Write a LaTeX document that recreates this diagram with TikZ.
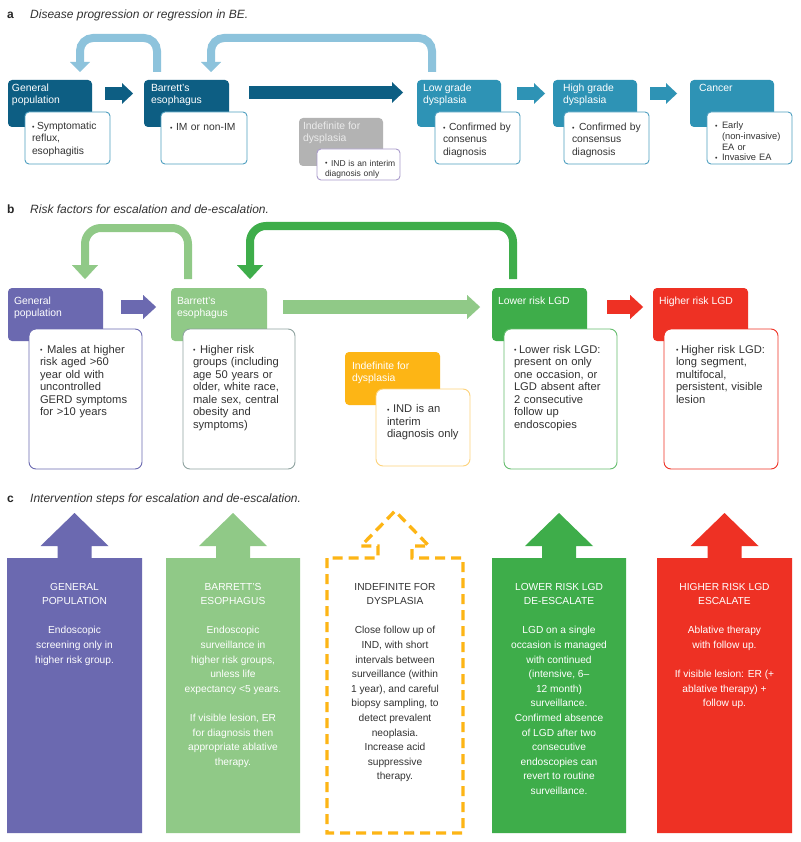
\documentclass[tikz,border=0pt]{standalone}
\usepackage{fontspec}
\setmainfont{Liberation Sans}
\usetikzlibrary{arrows.meta,calc}
\definecolor{adark}{HTML}{0D5E83}
\definecolor{alight}{HTML}{2E93B5}
\definecolor{aloop}{HTML}{8DC3DC}
\definecolor{agray}{HTML}{B3B3B3}
\definecolor{aborder}{HTML}{4F9FC0}
\definecolor{indborder}{HTML}{A99BCB}
\definecolor{bpurple}{HTML}{6B69B0}
\definecolor{blgreen}{HTML}{90C987}
\definecolor{bgreen}{HTML}{3EAD4A}
\definecolor{borange}{HTML}{FDB515}
\definecolor{borangeb}{HTML}{FDD27A}
\definecolor{bred}{HTML}{EE3124}
\definecolor{bbeborder}{HTML}{8FA3A0}
\definecolor{tgray}{HTML}{333333}
\newcommand{\bsym}{\raisebox{0.3pt}{\fontsize{7}{7}\selectfont •}}
\newcommand{\bl}[1]{\par\noindent\hangindent=#1\hangafter=1\makebox[#1][l]{\bsym}}
\begin{document}
\begin{tikzpicture}[x=1pt,y=-1pt,
  box/.style={anchor=north west, inner sep=0pt, outer sep=0pt, rounded corners=4pt},
  wboxa/.style={box, draw=#1, fill=white, line width=0.9pt},
  wboxb/.style={box, draw=#1, fill=white, line width=0.9pt, rounded corners=7pt},
  hdr/.style={anchor=north west, inner sep=0pt, outer sep=0pt, text=white, align=left, font=\fontsize{10.4}{12.3}\selectfont},
  btx/.style={anchor=north west, inner sep=0pt, outer sep=0pt, text=tgray, align=left, text width=#1, font=\fontsize{10.3}{12.4}\selectfont},
  btxb/.style={btx=#1, font=\fontsize{11.2}{12.5}\selectfont},
  ttl/.style={anchor=base west, inner sep=0pt, text=tgray, font=\fontsize{12}{14}\selectfont\itshape},
  lab/.style={anchor=base west, inner sep=0pt, text=black!85, font=\fontsize{12}{14}\selectfont\bfseries},
  barrowa/.style={line width=12.5pt, -{Triangle[width=20.5pt,length=11pt,line width=0.01pt]}},
  barrowb/.style={line width=14pt, -{Triangle[width=24pt,length=13pt,line width=0.01pt]}},
  loopa/.style={aloop, line width=8pt, rounded corners=13pt, -{Triangle[width=20pt,length=10pt,line width=0.01pt]}},
  loopb/.style={line width=8pt, rounded corners=16pt, -{Triangle[width=26pt,length=14pt,line width=0.01pt]}},
  ctx/.style={anchor=north, inner sep=0pt, outer sep=0pt, align=center, font=\fontsize{10.2}{14.6}\selectfont}
]
\useasboundingbox[fill=white] (0,0) rectangle (800,842);

% ---------------- panel a ----------------
\node[lab] (aLab) at (7,18.5) {a};
\node[ttl] (aTtl) at (30,18.5) {Disease progression or regression in BE.};

\node[box, fill=adark, minimum width=84pt, minimum height=47pt] (aGP) at (8,80) {};
\node[box, fill=adark, minimum width=85pt, minimum height=47pt] (aBE) at (144,80) {};
\node[box, fill=alight, minimum width=84pt, minimum height=47pt] (aLG) at (417,80) {};
\node[box, fill=alight, minimum width=84pt, minimum height=47pt] (aHG) at (553,80) {};
\node[box, fill=alight, minimum width=84pt, minimum height=47pt] (aCA) at (690,80) {};
\node[box, fill=agray, minimum width=84pt, minimum height=48pt] (aIND) at (299,118) {};

\node[hdr] (aGPt) at ($(aGP.north west)+(4,4)$) {General\\population};
\node[hdr] (aBEt) at ($(aBE.north west)+(7,4)$) {Barrett’s\\esophagus};
\node[hdr] (aLGt) at ($(aLG.north west)+(6,4)$) {Low grade\\dysplasia};
\node[hdr] (aHGt) at ($(aHG.north west)+(10,4)$) {High grade\\dysplasia};
\node[hdr] (aCAt) at ($(aCA.north west)+(9,4)$) {Cancer};
\node[hdr, text=white!92!black] (aINDt) at ($(aIND.north west)+(4,4)$) {Indefinite for\\dysplasia};

\node[wboxa=aborder, minimum width=85pt, minimum height=52pt] (aGPw) at (25,112) {};
\node[wboxa=aborder, minimum width=86pt, minimum height=52pt] (aBEw) at (161,112) {};
\node[wboxa=aborder, minimum width=85pt, minimum height=52pt] (aLGw) at (435,112) {};
\node[wboxa=aborder, minimum width=85pt, minimum height=52pt] (aHGw) at (564,112) {};
\node[wboxa=aborder, minimum width=85pt, minimum height=52pt] (aCAw) at (707,112) {};
\node[wboxa=indborder, minimum width=83pt, minimum height=31pt] (aINDw) at (317,149) {};

\node[btx=78pt] (aGPb) at ($(aGPw.north west)+(7,5)$) {\bl{5pt}Symptomatic\newline reflux,\newline esophagitis};
\node[btx=78pt] (aBEb) at ($(aBEw.north west)+(9,6)$) {\bl{6pt}IM or non-IM};
\node[btx=78pt] (aLGb) at ($(aLGw.north west)+(8,6)$) {\bl{6pt}Confirmed by\newline consenus\newline diagnosis};
\node[btx=78pt] (aHGb) at ($(aHGw.north west)+(8,6)$) {\bl{7pt}Confirmed by\newline consensus\newline diagnosis};
\node[btx=78pt, font=\fontsize{9.3}{10.7}\selectfont] (aCAb) at ($(aCAw.north west)+(8,6)$) {\bl{7pt}Early\newline (non-invasive)\newline EA or\bl{7pt}Invasive EA};
\node[btx=78pt, font=\fontsize{8.5}{10.3}\selectfont] (aINDb) at ($(aINDw.north west)+(8,7)$) {\bl{6pt}IND is an interim\newline diagnosis only};

\draw[barrowa, adark] ([xshift=13pt,yshift=10pt]aGP.east) -- ([xshift=-11pt,yshift=10pt]aBE.west);
\draw[barrowa, adark, line width=13pt] ([xshift=20pt,yshift=11pt]aBE.east) -- ([xshift=-14pt,yshift=11pt]aLG.west);
\draw[barrowa, alight] ([xshift=16pt,yshift=10pt]aLG.east) -- ([xshift=-8pt,yshift=10pt]aHG.west);
\draw[barrowa, alight] ([xshift=13pt,yshift=10pt]aHG.east) -- ([xshift=-13pt,yshift=10pt]aCA.west);

\draw[loopa] ([xshift=13pt,yshift=8pt]aBE.north west) -- ++(0,-34) -| ([xshift=72pt,yshift=8pt]aGP.north west);
\draw[loopa] ([xshift=15pt,yshift=8pt]aLG.north west) -- ++(0,-34) -| ([xshift=67pt,yshift=8pt]aBE.north west);

% ---------------- panel b ----------------
\node[lab] (bLab) at (7,213.6) {b};
\node[ttl] (bTtl) at (30,213.6) {Risk factors for escalation and de-escalation.};

\node[box, fill=bpurple, minimum width=95pt, minimum height=53pt] (bGP) at (8,288) {};
\node[box, fill=blgreen, minimum width=96pt, minimum height=53pt] (bBE) at (171,288) {};
\node[box, fill=borange, minimum width=95pt, minimum height=53pt] (bIND) at (345,352) {};
\node[box, fill=bgreen, minimum width=95pt, minimum height=53pt] (bLR) at (492,288) {};
\node[box, fill=bred, minimum width=95pt, minimum height=53pt] (bHR) at (653,288) {};

\node[hdr] (bGPt) at ($(bGP.north west)+(6,9)$) {General\\population};
\node[hdr] (bBEt) at ($(bBE.north west)+(6,9)$) {Barrett’s\\esophagus};
\node[hdr] (bINDt) at ($(bIND.north west)+(7,10)$) {Indefinite for\\dysplasia};
\node[hdr] (bLRt) at ($(bLR.north west)+(6,9)$) {Lower risk LGD};
\node[hdr] (bHRt) at ($(bHR.north west)+(6,9)$) {Higher risk LGD};

\node[wboxb=bpurple, minimum width=113pt, minimum height=140pt] (bGPw) at (29,329) {};
\node[wboxb=bbeborder, minimum width=112pt, minimum height=140pt] (bBEw) at (183,329) {};
\node[wboxb=borangeb, minimum width=94pt, minimum height=77pt] (bINDw) at (376,389) {};
\node[wboxb=bgreen!80, minimum width=113pt, minimum height=140pt] (bLRw) at (504,329) {};
\node[wboxb=bred, minimum width=114pt, minimum height=140pt] (bHRw) at (664,329) {};

\node[btxb=104pt] (bGPb) at ($(bGPw.north west)+(11,11.5)$) {\bl{7pt}Males at higher\newline risk aged >60\newline year old with\newline uncontrolled\newline GERD symptoms\newline for >10 years};
\node[btxb=104pt] (bBEb) at ($(bBEw.north west)+(10,11.5)$) {\bl{7pt}Higher risk\newline groups (including\newline age 50 years or\newline older, white race,\newline male sex, central\newline obesity and\newline symptoms)};
\node[btxb=92pt] (bINDb) at ($(bINDw.north west)+(11,11)$) {\bl{6pt}IND is an\newline interim\newline diagnosis only};
\node[btxb=104pt] (bLRb) at ($(bLRw.north west)+(10,11.5)$) {\bl{5pt}Lower risk LGD:\newline present on only\newline one occasion, or\newline LGD absent after\newline 2 consecutive\newline follow up\newline endoscopies};
\node[btxb=104pt] (bHRb) at ($(bHRw.north west)+(12,11.5)$) {\bl{5pt}Higher risk LGD:\newline long segment,\newline multifocal,\newline persistent, visible\newline lesion};

\draw[barrowb, bpurple] ([xshift=18pt,yshift=7.5pt]bGP.east) -- ([xshift=-15pt,yshift=7.5pt]bBE.west);
\draw[barrowb, blgreen] ([xshift=16pt,yshift=7.5pt]bBE.east) -- ([xshift=-12pt,yshift=7.5pt]bLR.west);
\draw[barrowb, bred] ([xshift=20pt,yshift=7.5pt]bLR.east) -- ([xshift=-10pt,yshift=7.5pt]bHR.west);

\draw[loopb, blgreen] ([xshift=17pt,yshift=9pt]bBE.north west) -- ++(0,-51) -| ([xshift=77pt,yshift=9pt]bGP.north west);
\draw[loopb, bgreen] ([xshift=21pt,yshift=9pt]bLR.north west) -- ++(0,-53) -| ([xshift=79pt,yshift=9pt]bBE.north west);

% ---------------- panel c ----------------
\node[lab] (cLab) at (7,502.6) {c};
\node[ttl] (cTtl) at (30,502.6) {Intervention steps for escalation and de-escalation.};

\fill[bpurple] (7,558) -- (7,833) -- (142,833) -- (142,558) -- (91.5,558) -- (91.5,546) -- (108.5,546) -- (74.5,513) -- (40.5,546) -- (57.5,546) -- (57.5,558) -- cycle;
\fill[blgreen] (166,558) -- (166,833) -- (300,833) -- (300,558) -- (250,558) -- (250,546) -- (267,546) -- (233,513) -- (199,546) -- (216,546) -- (216,558) -- cycle;
\draw[borange, line width=3.3pt, dash pattern=on 10pt off 6pt] (327,558) -- (327,833) -- (463,833) -- (463,558) -- (412,558) -- (412,546) -- (429,546) -- (395,511) -- (361,546) -- (378,546) -- (378,558) -- cycle;
\fill[bgreen] (492,558) -- (492,833) -- (626,833) -- (626,558) -- (576,558) -- (576,546) -- (593,546) -- (559,513) -- (525,546) -- (542,546) -- (542,558) -- cycle;
\fill[bred] (657,558) -- (657,833) -- (792,833) -- (792,558) -- (741.5,558) -- (741.5,546) -- (758.5,546) -- (724.5,513) -- (690.5,546) -- (707.5,546) -- (707.5,558) -- cycle;

\node[ctx, text=white] (cGPt) at (74.5,583) {GENERAL\\POPULATION\\[14.6pt]Endoscopic\\screening only in\\higher risk group.};
\node[ctx, text=white] (cBEt) at (233,583) {BARRETT’S\\ESOPHAGUS\\[14.6pt]Endoscopic\\surveillance in\\higher risk groups,\\unless life\\expectancy <5 years.\\[14.6pt]If visible lesion, ER\\for diagnosis then\\appropriate ablative\\therapy.};
\node[ctx, text=tgray] (cINDt) at (395,583) {INDEFINITE FOR\\DYSPLASIA\\[14.6pt]Close follow up of\\IND, with short\\intervals between\\surveillance (within\\1 year), and careful\\biopsy sampling, to\\detect prevalent\\neoplasia.\\Increase acid\\suppressive\\therapy.};
\node[ctx, text=white] (cLRt) at (559,583) {LOWER RISK LGD\\DE-ESCALATE\\[14.6pt]LGD on a single\\occasion is managed\\with continued\\(intensive, 6–\\12 month)\\surveillance.\\Confirmed absence\\of LGD after two\\consecutive\\endoscopies can\\revert to routine\\surveillance.};
\node[ctx, text=white] (cHRt) at (724.5,583) {HIGHER RISK LGD\\ESCALATE\\[14.6pt]Ablative therapy\\with follow up.\\[14.6pt]If visible lesion: ER (+\\ablative therapy) +\\follow up.};
\end{tikzpicture}
\end{document}
